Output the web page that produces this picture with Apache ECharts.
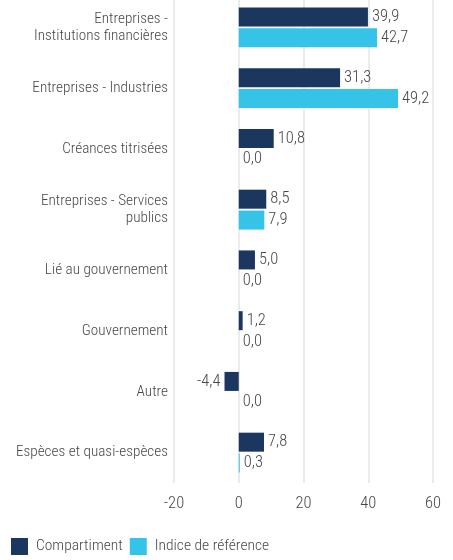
<!DOCTYPE html>
<html>
<head>
<meta charset="utf-8">
<script src="https://cdn.jsdelivr.net/npm/echarts@6/dist/echarts.min.js"></script>
<style>
  html, body { margin: 0; padding: 0; background: #fff; }
  #main { width: 453px; height: 560px; }
</style>
</head>
<body>
<div id="main"></div>
<script>
// catégories (de haut en bas)
var categories = [
  'Entreprises -\nInstitutions financières',
  'Entreprises - Industries',
  'Créances titrisées',
  'Entreprises - Services\npublics',
  'Lié au gouvernement',
  'Gouvernement',
  'Autre',
  'Espèces et quasi-espèces'
];
var compartiment = [39.9, 31.3, 10.8, 8.5, 5.0, 1.2, -4.4, 7.8];
var indice = [42.7, 49.2, 0.0, 7.9, 0.0, 0.0, 0.0, 0.3];
var xTicks = [-20, 0, 20, 40, 60];

var FONT = '"Roboto Condensed", "DejaVu Sans Condensed", sans-serif';
var TXT = '#474747';

function fmt(v) {
  return v.toFixed(1).replace('.', ',');
}

function toData(arr) {
  return arr.map(function (v) {
    return {
      value: v,
      label: { position: v < 0 ? 'left' : 'right' }
    };
  });
}

var myChart = echarts.init(document.getElementById('main'));

var option = {
  animation: false,
  textStyle: { fontFamily: FONT, fontWeight: 300 },
  grid: {
    left: 174,
    right: 20,
    top: -3,
    bottom: 77,
    outerBoundsMode: 'none',
    containLabel: false
  },
  legend: {
    left: 6,
    bottom: 0,
    itemWidth: 17,
    itemHeight: 17,
    itemGap: 7,
    icon: 'rect',
    textStyle: {
      fontFamily: FONT, fontWeight: 300, fontSize: 15.5, color: TXT,
      padding: [0, 0, 0, 3]
    },
    data: ['Compartiment', 'Indice de référence']
  },
  xAxis: {
    type: 'value',
    min: xTicks[0],
    max: xTicks[xTicks.length - 1],
    interval: 20,
    axisLine: { show: false },
    axisTick: { show: false },
    axisLabel: { fontFamily: FONT, fontWeight: 300, fontSize: 16.5, color: TXT, margin: 12 },
    splitLine: { lineStyle: { color: '#ebebeb', width: 2 } }
  },
  yAxis: {
    type: 'category',
    inverse: true,
    data: categories,
    axisLine: { show: false },
    axisTick: { show: false },
    axisLabel: {
      fontFamily: FONT, fontWeight: 300, fontSize: 15.2, color: TXT, margin: 6,
      lineHeight: 17, align: 'right'
    }
  },
  series: [
    {
      name: 'Compartiment',
      type: 'bar',
      data: toData(compartiment),
      barWidth: 19,
      barGap: '10%',
      itemStyle: { color: '#1b365f' },
      label: {
        show: true, fontFamily: FONT, fontWeight: 300, fontSize: 16.5, color: TXT, distance: 4,
        formatter: function (p) { return fmt(p.value); }
      }
    },
    {
      name: 'Indice de référence',
      type: 'bar',
      data: toData(indice),
      barWidth: 19,
      itemStyle: { color: '#35c4e8' },
      label: {
        show: true, fontFamily: FONT, fontWeight: 300, fontSize: 16.5, color: TXT, distance: 4,
        formatter: function (p) { return fmt(p.value); }
      }
    }
  ]
};

myChart.setOption(option);
</script>
</body>
</html>
